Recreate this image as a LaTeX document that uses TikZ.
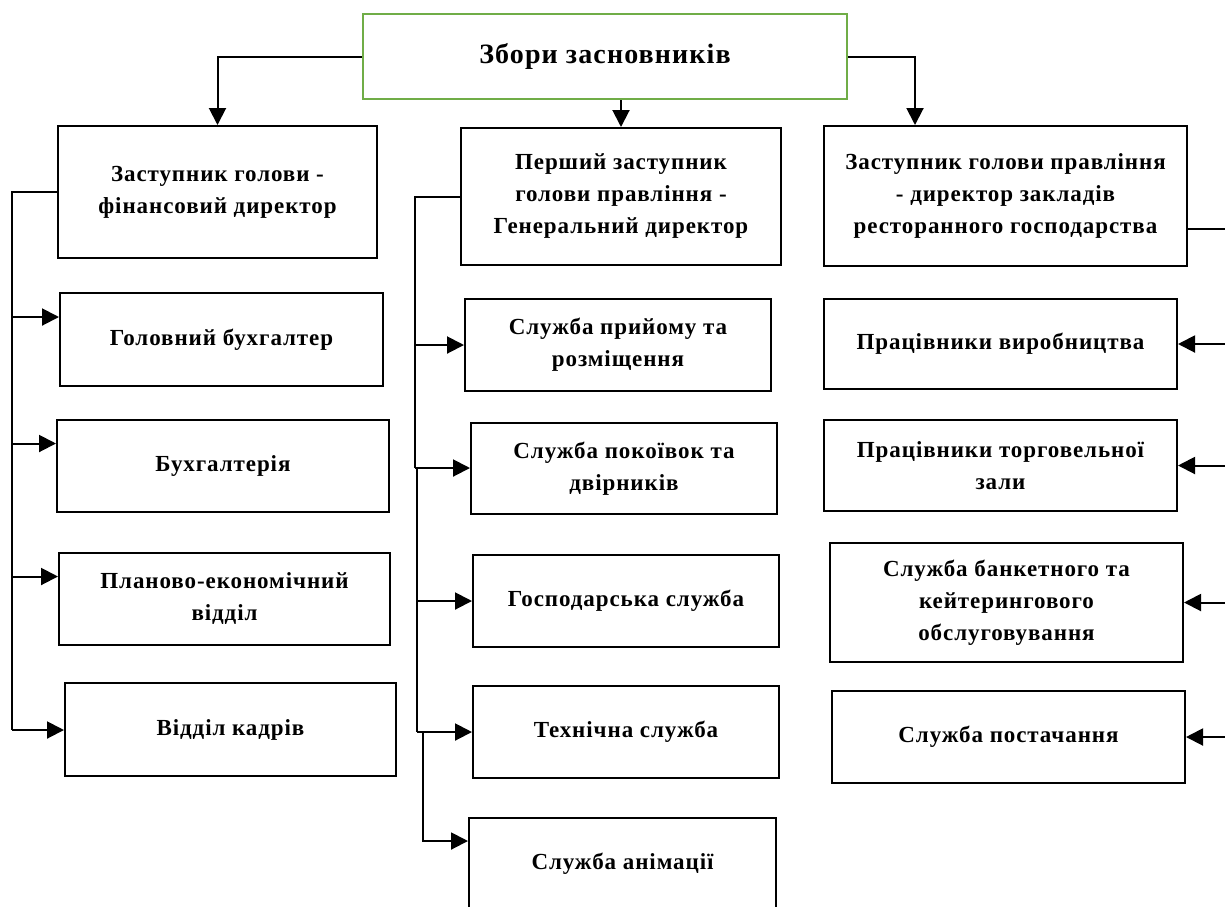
\documentclass[tikz,border=0pt]{standalone}
\usepackage{fontspec}
\setmainfont{Liberation Serif}
\newfontfamily\rozr[LetterSpace=4]{Liberation Serif}
\usetikzlibrary{arrows.meta,positioning}
\definecolor{zelen}{RGB}{112,173,71}

\begin{document}
\begin{tikzpicture}[x=1pt, y=-1pt,
    block/.style={draw, line width=2pt, inner sep=2pt, align=center,
      font=\rozr\fontsize{23}{32}\selectfont\bfseries},
    arr/.style={-{Triangle[length=17pt,width=17pt]}, line width=2pt},
    lin/.style={line width=2pt}
]
\useasboundingbox (0,0) rectangle (1225,906);
\clip (0,0) rectangle (1225,906);

% --- Збори засновників ---
\node[draw=zelen, line width=2.2pt, minimum width=484pt, minimum height=85pt,
      font=\rozr\fontsize{28}{32}\selectfont\bfseries] (zbory) at (605,56.5)
      {Збори засновників};

% --- Заступники (верхній ряд) ---
\node[block, minimum width=319pt, minimum height=132pt] (zfin) at (217.5,192)
      {Заступник голови -\\фінансовий директор};
\node[block, minimum width=320pt, minimum height=137pt] (pzgen) at (621,196.5)
      {Перший заступник\\голови правління -\\Генеральний директор};
\node[block, minimum width=363pt, minimum height=140pt] (zrest) at (1005.5,196)
      {Заступник голови правління\\- директор закладів\\ресторанного господарства};

% --- Лівий стовпець ---
\node[block, minimum width=323pt, minimum height=93pt] (gbuh) at (221.5,339.5)
      {Головний бухгалтер};
\node[block, minimum width=332pt, minimum height=92pt] (buh) at (223,466)
      {Бухгалтерія};
\node[block, minimum width=331pt, minimum height=92pt] (pev) at (224.5,599)
      {Планово-економічний\\відділ};
\node[block, minimum width=331pt, minimum height=93pt] (kadry) at (230.5,729.5)
      {Відділ кадрів};

% --- Середній стовпець ---
\node[block, minimum width=306pt, minimum height=92pt] (pryiom) at (618,345)
      {Служба прийому та\\розміщення};
\node[block, minimum width=306pt, minimum height=91pt] (pokoiv) at (624,468.5)
      {Служба покоївок та\\двірників};
\node[block, minimum width=306pt, minimum height=92pt] (gosp) at (626,601)
      {Господарська служба};
\node[block, minimum width=306pt, minimum height=92pt] (tekh) at (626,732)
      {Технічна служба};
\node[block, minimum width=307pt, minimum height=92pt] (anim) at (622.5,864)
      {Служба анімації};

% --- Правий стовпець ---
\node[block, minimum width=353pt, minimum height=90pt] (vyrob) at (1000.5,344)
      {Працівники виробництва};
\node[block, minimum width=353pt, minimum height=91pt] (torh) at (1000.5,465.5)
      {Працівники торговельної\\зали};
\node[block, minimum width=353pt, minimum height=119pt] (bank) at (1006.5,602.5)
      {Служба банкетного та\\кейтерингового\\обслуговування};
\node[block, minimum width=353pt, minimum height=92pt] (post) at (1008.5,737)
      {Служба постачання};

% --- Від зборів ---
\draw[arr] (zbory.west) -| (zfin.north);
\draw[arr] (zbory.south -| pzgen.north) -- (pzgen.north);
\draw[arr] (zbory.east) -| ([xshift=-90.5pt]zrest.north);

% --- Ліва шина ---
\coordinate (lbus) at (12,730);
\draw[lin] (zfin.west) -| (lbus);
\foreach \n in {gbuh,buh,pev}
  \draw[arr] ([yshift=22.5pt]\n.west -| lbus) -- ([yshift=22.5pt]\n.west);
\draw[arr] (lbus) -- (lbus -| kadry.west);

% --- Середня шина ---
\coordinate (mbus1) at (415,468);
\coordinate (mbus2) at (417,732);
\coordinate (mbus3) at (423,841);
\draw[lin] (pzgen.west) -| (mbus1);
\draw[arr] (pryiom.west -| mbus1) -- (pryiom.west);
\draw[arr] (mbus1) -- (mbus1 -| pokoiv.west);
\draw[lin] (mbus1 -| mbus2) -- (mbus2);
\draw[arr] (gosp.west -| mbus2) -- (gosp.west);
\draw[arr] (mbus2) -- (tekh.west);
\draw[arr] (mbus2 -| mbus3) -- (mbus3) -- (mbus3 -| anim.west);

% --- Права шина ---
\coordinate (rbus) at (1228,737);
\draw[lin] ([yshift=-33pt]zrest.east) -| (rbus);
\foreach \n in {vyrob,torh,bank,post}
  \draw[arr] (\n.east -| rbus) -- (\n.east);
\end{tikzpicture}
\end{document}
